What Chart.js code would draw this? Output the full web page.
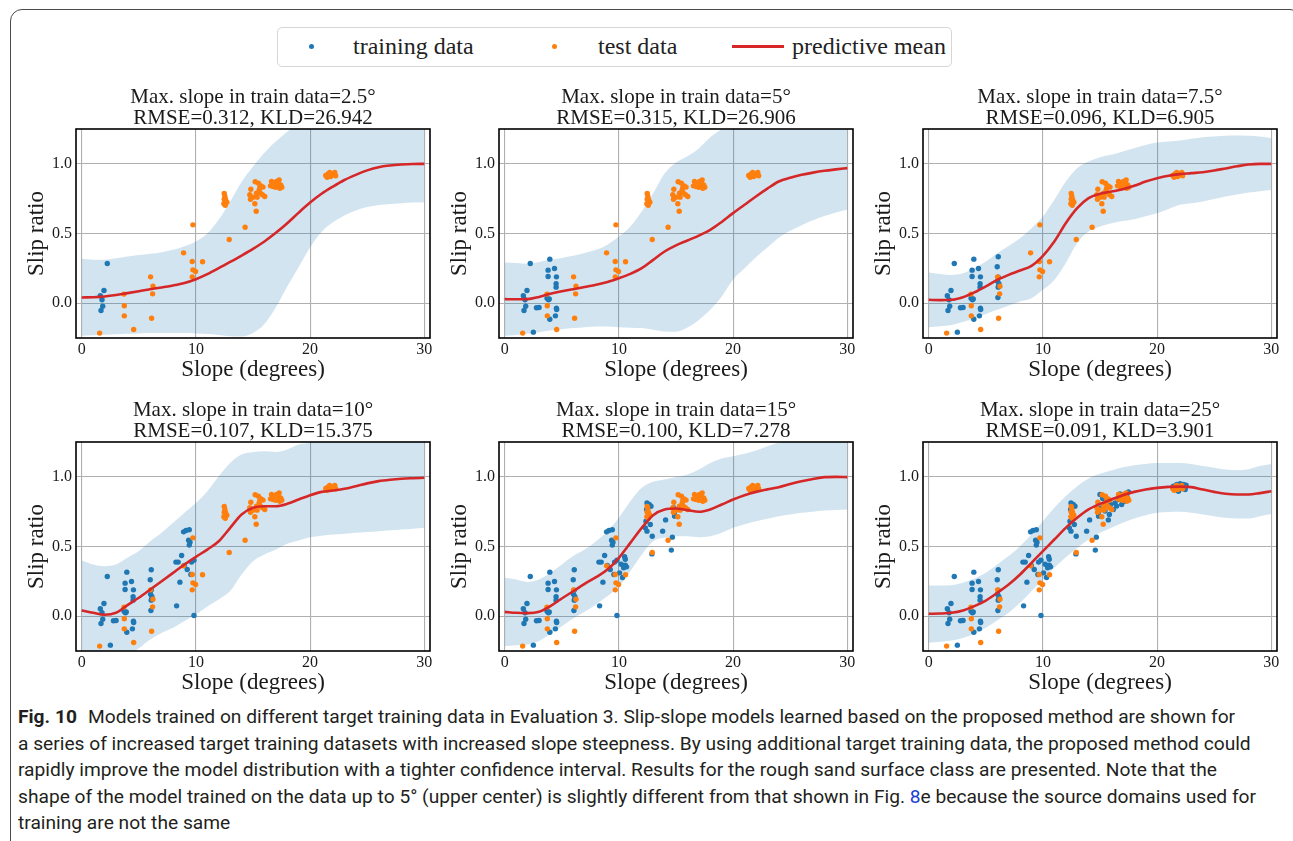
<!DOCTYPE html>
<html lang="en">
<head>
<meta charset="utf-8">
<title>Fig. 10 - slip-slope models</title>
<script src="https://cdn.jsdelivr.net/npm/chart.js@4.4.0/dist/chart.umd.min.js"></script>
<style>
  html, body { margin: 0; padding: 0; background: #fff; }
  body { width: 1293px; height: 841px; position: relative; overflow: hidden; }
  .frame { position: absolute; left: 10px; top: 9px; width: 1292px; height: 900px; border: 1px solid #4a4a4a; border-radius: 12px; box-sizing: border-box; }
  .legend { position: absolute; left: 277px; top: 27px; width: 675px; height: 40px; border: 1px solid #d6d6d6; border-radius: 5px; box-sizing: border-box; font-family: "Liberation Serif", serif; font-size: 24px; color: #222; }
  .legend .item { position: absolute; top: 0; line-height: 37px; white-space: nowrap; }
  .legend .dot { position: absolute; top: 16px; width: 5px; height: 5px; border-radius: 50%; }
  .legend .bar { position: absolute; top: 17px; height: 3px; }
  .panel { position: absolute; }
  .caption { position: absolute; left: 18px; top: 704px; font-family: Roboto, sans-serif; font-size: 18px; line-height: 26.5px; color: #231f20; white-space: nowrap; transform-origin: 0 0; }
  .caption .line { width: max-content; }
  .caption b { font-weight: 700; margin-right: 6px; }
  .caption .ref { color: #1a3fd6; }
</style>
</head>
<body>
<div class="frame"></div>

<div class="legend">
  <span class="dot" style="left:31px;background:#1f77b4"></span>
  <span class="item" style="left:75px">training data</span>
  <span class="dot" style="left:274px;background:#ff7f0e"></span>
  <span class="item" style="left:320px">test data</span>
  <span class="bar" style="left:454px;width:52px;background:#d62728"></span>
  <span class="item" style="left:514px">predictive mean</span>
</div>

<div id="panels"></div>

<div class="caption">
  <div class="line"><b>Fig. 10</b> Models trained on different target training data in Evaluation 3. Slip-slope models learned based on the proposed method are shown for</div>
  <div class="line">a series of increased target training datasets with increased slope steepness. By using additional target training data, the proposed method could</div>
  <div class="line">rapidly improve the model distribution with a tighter confidence interval. Results for the rough sand surface class are presented. Note that the</div>
  <div class="line">shape of the model trained on the data up to 5° (upper center) is slightly different from that shown in Fig. <span class="ref">8</span>e because the source domains used for</div>
  <div class="line">training are not the same</div>
</div>

<script>
const BLUE = '#1f77b4';
const ORANGE = '#ff7f0e';
const RED = '#d62728';
const BAND_FILL = 'rgba(31,119,180,0.2)';
const SERIF = '"Liberation Serif", "Times New Roman", serif';

// slope grid (degrees) for the predictive curves
const SLOPE_GRID = [0,1,2,3,4,5,6,7,8,9,10,11,12,13,14,15,16,17,18,19,20,21,22,23,24,25,26,27,28,29,30];
const X_TICKS = [0, 10, 20, 30];
const Y_TICKS = [0, 0.5, 1.0];

// predictive mean and confidence band per model (max training slope)
const MEAN_2_5  = [0.041,0.043,0.048,0.058,0.072,0.086,0.100,0.113,0.127,0.145,0.172,0.208,0.251,0.296,0.342,0.390,0.443,0.505,0.574,0.650,0.722,0.785,0.837,0.884,0.921,0.953,0.976,0.988,0.995,0.999,1.000];
const UPPER_2_5 = [0.318,0.312,0.311,0.322,0.335,0.345,0.354,0.366,0.383,0.408,0.443,0.500,0.600,0.730,0.870,0.980,1.080,1.160,1.230,1.290,1.340,1.380,1.420,1.450,1.470,1.480,1.490,1.500,1.500,1.500,1.500];
const LOWER_2_5 = [-0.234,-0.230,-0.227,-0.223,-0.220,-0.217,-0.215,-0.215,-0.215,-0.215,-0.217,-0.222,-0.228,-0.238,-0.240,-0.215,-0.150,-0.030,0.120,0.260,0.400,0.510,0.580,0.630,0.665,0.690,0.705,0.712,0.718,0.722,0.725];

const MEAN_5  = [0.029,0.028,0.029,0.045,0.067,0.085,0.100,0.116,0.132,0.152,0.179,0.210,0.251,0.311,0.371,0.415,0.450,0.485,0.526,0.583,0.646,0.706,0.766,0.822,0.873,0.900,0.921,0.937,0.950,0.960,0.969];
const UPPER_5 = [0.292,0.288,0.282,0.295,0.311,0.325,0.340,0.360,0.383,0.420,0.478,0.550,0.658,0.789,0.930,1.010,1.055,1.110,1.190,1.250,1.300,1.340,1.380,1.420,1.450,1.470,1.480,1.490,1.500,1.500,1.500];
const LOWER_5 = [-0.234,-0.228,-0.220,-0.208,-0.196,-0.187,-0.179,-0.172,-0.167,-0.168,-0.172,-0.176,-0.179,-0.190,-0.203,-0.205,-0.175,-0.120,-0.048,0.048,0.170,0.250,0.330,0.400,0.470,0.520,0.560,0.595,0.625,0.650,0.670];

const MEAN_7_5  = [0.024,0.022,0.024,0.043,0.077,0.120,0.167,0.203,0.234,0.268,0.340,0.443,0.574,0.682,0.754,0.785,0.801,0.818,0.842,0.873,0.897,0.915,0.926,0.933,0.940,0.952,0.967,0.982,0.995,1.000,1.000];
const UPPER_7_5 = [0.220,0.210,0.203,0.215,0.251,0.299,0.359,0.411,0.466,0.538,0.622,0.742,0.873,0.969,1.017,1.048,1.065,1.089,1.112,1.136,1.153,1.160,1.167,1.180,1.191,1.197,1.201,1.203,1.201,1.196,1.184];
const LOWER_7_5 = [-0.172,-0.165,-0.156,-0.135,-0.108,-0.078,-0.048,-0.018,0.012,0.036,0.096,0.167,0.287,0.431,0.514,0.550,0.574,0.590,0.603,0.624,0.646,0.676,0.706,0.718,0.730,0.748,0.766,0.780,0.794,0.804,0.813];

const MEAN_10  = [0.041,0.024,0.010,0.024,0.079,0.132,0.191,0.251,0.311,0.371,0.426,0.478,0.538,0.634,0.730,0.778,0.789,0.789,0.806,0.837,0.868,0.892,0.902,0.914,0.933,0.953,0.969,0.979,0.986,0.990,0.993];
const UPPER_10 = [0.402,0.371,0.359,0.371,0.419,0.467,0.538,0.598,0.670,0.742,0.813,0.897,1.005,1.100,1.160,1.179,1.184,1.179,1.196,1.232,1.244,1.270,1.290,1.310,1.320,1.330,1.330,1.330,1.330,1.330,1.330];
const LOWER_10 = [-0.320,-0.340,-0.350,-0.330,-0.280,-0.230,-0.167,-0.120,-0.084,-0.035,0.012,0.070,0.120,0.180,0.299,0.395,0.443,0.478,0.519,0.543,0.567,0.578,0.586,0.592,0.598,0.604,0.610,0.616,0.622,0.628,0.634];

const MEAN_15  = [0.031,0.024,0.022,0.031,0.072,0.127,0.179,0.232,0.280,0.335,0.419,0.526,0.634,0.725,0.766,0.773,0.761,0.749,0.766,0.801,0.837,0.868,0.892,0.910,0.926,0.948,0.969,0.985,0.998,1.000,0.998];
const UPPER_15 = [0.275,0.263,0.246,0.263,0.311,0.371,0.431,0.478,0.538,0.610,0.706,0.825,0.921,0.964,0.981,0.998,1.017,1.053,1.100,1.132,1.148,1.165,1.189,1.220,1.244,1.260,1.270,1.280,1.280,1.280,1.280];
const LOWER_15 = [-0.215,-0.208,-0.203,-0.179,-0.127,-0.072,-0.017,0.031,0.084,0.144,0.215,0.323,0.443,0.538,0.562,0.574,0.574,0.567,0.574,0.598,0.634,0.660,0.682,0.700,0.718,0.730,0.742,0.750,0.758,0.762,0.766];

const MEAN_25  = [0.017,0.019,0.024,0.041,0.072,0.112,0.167,0.227,0.299,0.383,0.467,0.550,0.634,0.706,0.766,0.806,0.837,0.868,0.892,0.909,0.921,0.928,0.930,0.926,0.909,0.892,0.878,0.873,0.873,0.883,0.897];
const UPPER_25 = [0.220,0.220,0.222,0.239,0.270,0.311,0.371,0.431,0.502,0.586,0.682,0.778,0.861,0.933,0.988,1.022,1.045,1.069,1.084,1.093,1.100,1.100,1.100,1.093,1.077,1.065,1.053,1.048,1.055,1.077,1.093];
const LOWER_25 = [-0.191,-0.183,-0.175,-0.156,-0.127,-0.084,-0.031,0.024,0.096,0.179,0.263,0.347,0.423,0.490,0.550,0.598,0.634,0.670,0.701,0.725,0.742,0.748,0.749,0.742,0.730,0.718,0.706,0.701,0.701,0.718,0.734];

// target training samples [slope, slip], grouped by slope range
const TRAIN_UP_TO_2_5 = [[2.24,0.285],[1.95,0.091],[1.63,0.053],[1.78,0.024],[1.84,-0.022],[1.69,-0.053]];
const TRAIN_2_5_TO_5 = [[2.51,-0.208],[2.78,-0.033],[3.01,-0.031],[3.95,0.316],[3.80,0.237],[3.80,0.191],[4.36,0.249],[4.53,0.189],[4.50,0.139],[4.50,0.115],[3.71,0.036],[3.83,0.024],[3.90,0.030],[4.53,-0.036],[4.55,-0.045],[3.95,-0.115],[4.44,-0.091]];
const TRAIN_5_TO_7_5 = [[6.09,0.333],[6.00,0.261],[6.09,0.187],[6.03,0.158],[6.15,0.139],[6.09,0.115],[6.12,0.120],[6.06,0.041]];
const TRAIN_7_5_TO_10 = [[8.31,0.074],[8.25,0.388],[8.45,0.388],[8.75,0.435],[8.60,0.244],[8.92,0.605],[9.13,0.615],[9.42,0.620],[9.36,0.545],[9.48,0.531],[9.42,0.510],[8.98,0.364],[9.24,0.335],[9.56,0.299],[9.83,0.402],[9.62,0.388],[9.83,0.005]];
const TRAIN_10_TO_15 = [[10.50,0.426],[10.56,0.409],[10.20,0.373],[10.56,0.366],[10.67,0.354],[10.32,0.278],[10.06,0.311],[10.41,0.347],[12.46,0.813],[12.66,0.801],[12.81,0.789],[12.43,0.766],[12.37,0.682],[12.31,0.634],[12.46,0.610],[12.75,0.658],[12.92,0.574],[12.89,0.447],[13.83,0.610],[14.09,0.691],[14.68,0.567],[14.59,0.474],[14.85,0.742],[14.88,0.718],[14.80,0.778]];
const TRAIN_15_TO_25 = [[15.73,0.691],[15.00,0.873],[15.23,0.844],[15.58,0.825],[15.94,0.801],[16.32,0.813],[16.61,0.837],[16.90,0.801],[17.10,0.825],[17.34,0.873],[17.49,0.892],[17.05,0.873],[16.75,0.878],[16.17,0.766],[16.46,0.790],[15.44,0.754],[15.15,0.778],[15.82,0.730],[17.19,0.849],[21.43,0.933],[21.73,0.945],[22.02,0.950],[22.31,0.945],[22.54,0.940],[21.58,0.909],[22.16,0.916],[21.87,0.897],[22.46,0.909]];

// held-out test samples, shared by every model
const TEST_POINTS = [[1.57,-0.215],[3.70,0.065],[3.73,-0.019],[3.73,-0.091],[4.55,-0.189],[6.03,0.189],[6.24,0.122],[6.21,0.067],[6.12,-0.108],[8.92,0.361],[9.74,0.562],[9.68,0.299],[9.74,0.239],[9.97,0.227],[9.68,0.189],[10.58,0.297],[12.48,0.787],[12.54,0.766],[12.60,0.742],[12.48,0.746],[12.71,0.725],[12.45,0.713],[12.57,0.703],[12.92,0.457],[14.31,0.545],[15.28,0.660],[15.19,0.871],[14.81,0.818],[14.72,0.778],[14.78,0.746],[15.16,0.713],[15.36,0.761],[15.54,0.813],[15.71,0.842],[15.83,0.778],[16.03,0.766],[15.88,0.833],[15.00,0.761],[15.30,0.790],[15.65,0.790],[15.48,0.861],[15.60,0.830],[16.62,0.873],[16.76,0.837],[17.06,0.873],[17.29,0.885],[17.43,0.849],[17.35,0.825],[17.00,0.832],[16.53,0.842],[17.23,0.856],[17.52,0.832],[16.90,0.850],[21.37,0.916],[21.57,0.928],[21.80,0.909],[22.01,0.921],[22.16,0.938],[21.72,0.938],[21.49,0.904],[22.24,0.914],[21.90,0.925]];

const TITLES = [
  ['Max. slope in train data=2.5°', 'RMSE=0.312, KLD=26.942'],
  ['Max. slope in train data=5°', 'RMSE=0.315, KLD=26.906'],
  ['Max. slope in train data=7.5°', 'RMSE=0.096, KLD=6.905'],
  ['Max. slope in train data=10°', 'RMSE=0.107, KLD=15.375'],
  ['Max. slope in train data=15°', 'RMSE=0.100, KLD=7.278'],
  ['Max. slope in train data=25°', 'RMSE=0.091, KLD=3.901']
];
const MEANS = [MEAN_2_5, MEAN_5, MEAN_7_5, MEAN_10, MEAN_15, MEAN_25];
const UPPERS = [UPPER_2_5, UPPER_5, UPPER_7_5, UPPER_10, UPPER_15, UPPER_25];
const LOWERS = [LOWER_2_5, LOWER_5, LOWER_7_5, LOWER_10, LOWER_15, LOWER_25];
// training data grows cumulatively: panel i uses groups 0..i
const TRAIN_GROUPS = [TRAIN_UP_TO_2_5, TRAIN_2_5_TO_5, TRAIN_5_TO_7_5, TRAIN_7_5_TO_10, TRAIN_10_TO_15, TRAIN_15_TO_25];

// panel geometry (px)
const COL_LEFT = [76, 499, 923];
const ROW_TOP = [129, 442];
const PLOT_W = 354, PLOT_H = 209;
const Y_AXIS_W = 62, X_AXIS_H = 47, TITLE_H = 42, RIGHT_PAD = 10;
const CAPTION_W = 1238;

const toXY = pts => pts.map(p => ({ x: p[0], y: p[1] }));
const curve = ys => SLOPE_GRID.map((x, i) => ({ x, y: ys[i] }));

// black box around the plotting area (all four sides)
const axesFrame = {
  id: 'axesFrame',
  afterDatasetsDraw(chart) {
    const { ctx, chartArea: a } = chart;
    ctx.save();
    ctx.strokeStyle = '#000';
    ctx.lineWidth = 1.6;
    ctx.strokeRect(a.left, a.top, a.right - a.left, a.bottom - a.top);
    ctx.restore();
  }
};

function buildPanel(i) {
  const col = i % 3, row = Math.floor(i / 3);
  const wrap = document.createElement('div');
  wrap.className = 'panel';
  const w = Y_AXIS_W + PLOT_W + RIGHT_PAD;
  const h = TITLE_H + PLOT_H + X_AXIS_H;
  wrap.style.left = (COL_LEFT[col] - Y_AXIS_W) + 'px';
  wrap.style.top = (ROW_TOP[row] - TITLE_H) + 'px';
  const canvas = document.createElement('canvas');
  canvas.width = w; canvas.height = h;
  canvas.style.width = w + 'px'; canvas.style.height = h + 'px';
  wrap.appendChild(canvas);
  document.getElementById('panels').appendChild(wrap);

  const train = TRAIN_GROUPS.slice(0, i + 1).flat();
  const line = { type: 'line', pointRadius: 0, cubicInterpolationMode: 'monotone' };

  new Chart(canvas.getContext('2d'), {
    type: 'scatter',
    data: {
      datasets: [
        { ...line, label: 'upper', data: curve(UPPERS[i]), borderWidth: 0, fill: '+1', backgroundColor: BAND_FILL, order: 4 },
        { ...line, label: 'lower', data: curve(LOWERS[i]), borderWidth: 0, fill: false, order: 5 },
        { label: 'training data', data: toXY(train), pointRadius: 2.7, borderWidth: 0, backgroundColor: BLUE, order: 3 },
        { label: 'test data', data: toXY(TEST_POINTS), pointRadius: 2.7, borderWidth: 0, backgroundColor: ORANGE, order: 2 },
        { ...line, label: 'predictive mean', data: curve(MEANS[i]), borderColor: RED, borderWidth: 2.6, fill: false, order: 1 }
      ]
    },
    options: {
      responsive: false,
      animation: false,
      devicePixelRatio: 1,
      layout: { padding: { left: 0, top: 0, right: RIGHT_PAD, bottom: 0 } },
      plugins: {
        legend: { display: false },
        tooltip: { enabled: false },
        title: {
          display: true, text: TITLES[i], fullSize: false, color: '#1a1a1a',
          font: { family: SERIF, size: 21, weight: 'normal', lineHeight: '21px' },
          padding: { top: 0, bottom: 0 }
        }
      },
      scales: {
        x: {
          type: 'linear', min: -0.5, max: 30.5,
          afterBuildTicks: s => { s.ticks = X_TICKS.map(v => ({ value: v })); },
          afterFit: s => { s.height = X_AXIS_H; },
          ticks: { color: '#1a1a1a', padding: 2, font: { family: SERIF, size: 16 } },
          grid: { color: '#b0b0b0', lineWidth: 1.1, drawTicks: false },
          border: { display: false },
          title: { display: true, text: 'Slope (degrees)', color: '#1a1a1a', font: { family: SERIF, size: 23, lineHeight: 1.2 }, padding: { top: 0, bottom: 1 } }
        },
        y: {
          type: 'linear', min: -0.25, max: 1.25,
          afterBuildTicks: s => { s.ticks = Y_TICKS.map(v => ({ value: v })); },
          afterFit: s => { s.width = Y_AXIS_W; },
          ticks: { color: '#1a1a1a', padding: 4, font: { family: SERIF, size: 16 }, callback: v => v.toFixed(1) },
          grid: { color: '#b0b0b0', lineWidth: 1.1, drawTicks: false },
          border: { display: false },
          title: { display: true, text: 'Slip ratio', color: '#1a1a1a', font: { family: SERIF, size: 23, lineHeight: 1.2 }, padding: { top: 9, bottom: 0 } }
        }
      }
    },
    plugins: [axesFrame]
  });
}

// stretch the caption horizontally so its longest line spans the text block
function fitCaption() {
  const cap = document.querySelector('.caption');
  let widest = 0;
  cap.querySelectorAll('.line').forEach(l => { widest = Math.max(widest, l.getBoundingClientRect().width); });
  if (widest > 0) cap.style.transform = `scaleX(${CAPTION_W / widest})`;
}

for (let i = 0; i < 6; i++) buildPanel(i);
fitCaption();
</script>
</body>
</html>
